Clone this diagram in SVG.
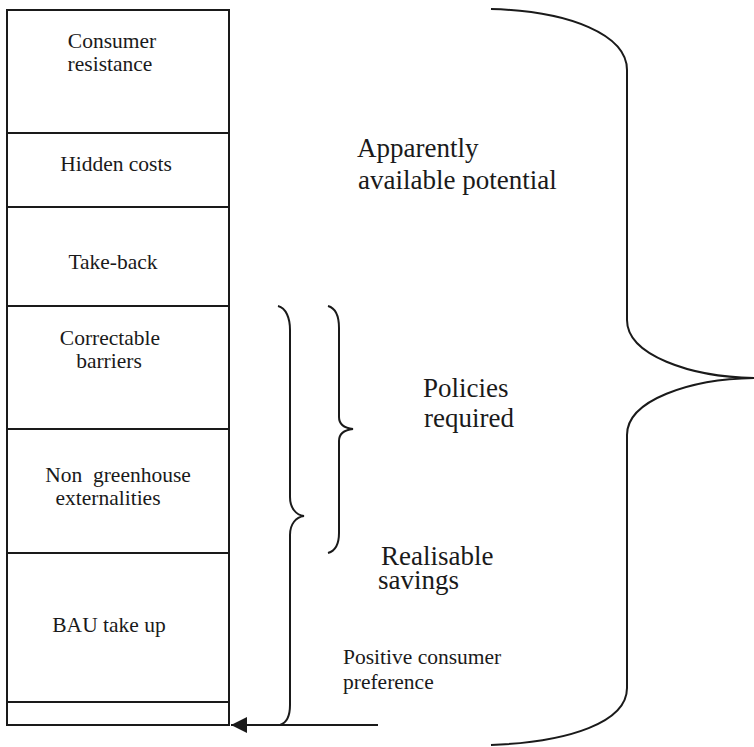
<svg xmlns="http://www.w3.org/2000/svg" width="754" height="747" viewBox="0 0 754 747">
<defs>
<style>
.box{fill:#fff;stroke:#1a1a1a;stroke-width:2}
.lbl{font-family:'Liberation Serif',Tinos,'Times New Roman',Times,'DejaVu Serif',serif;font-size:21.5px;fill:#1a1a1a}
.big{font-family:'Liberation Serif',Tinos,'Times New Roman',Times,'DejaVu Serif',serif;font-size:27px;fill:#1a1a1a}
.brace{fill:none;stroke:#1a1a1a;stroke-width:2}
.line{fill:none;stroke:#1a1a1a;stroke-width:2.2}
</style>
<marker id="ah" markerUnits="userSpaceOnUse" markerWidth="17" markerHeight="16" refX="16" refY="8" orient="auto">
<path d="M0,0 L16,8 L0,16 Z" fill="#1a1a1a"/>
</marker>
</defs>
<rect width="754" height="747" fill="#fff"/>
<g id="node-consumer-resistance">
<rect class="box" x="7" y="10" width="222" height="123"/>
<text class="lbl" x="112" y="48" text-anchor="middle">Consumer</text>
<text class="lbl" x="110" y="71" text-anchor="middle">resistance</text>
</g>
<g id="node-hidden-costs">
<rect class="box" x="7" y="133" width="222" height="74"/>
<text class="lbl" x="116" y="171" text-anchor="middle">Hidden costs</text>
</g>
<g id="node-take-back">
<rect class="box" x="7" y="207" width="222" height="99"/>
<text class="lbl" x="113" y="269" text-anchor="middle">Take-back</text>
</g>
<g id="node-correctable-barriers">
<rect class="box" x="7" y="306" width="222" height="123"/>
<text class="lbl" x="110" y="345" text-anchor="middle">Correctable</text>
<text class="lbl" x="109" y="368" text-anchor="middle">barriers</text>
</g>
<g id="node-non-greenhouse">
<rect class="box" x="7" y="429" width="222" height="124"/>
<text class="lbl" x="118" y="482" text-anchor="middle" xml:space="preserve">Non  greenhouse</text>
<text class="lbl" x="108" y="505" text-anchor="middle">externalities</text>
</g>
<g id="node-bau-take-up">
<rect class="box" x="7" y="553" width="222" height="149"/>
<text class="lbl" x="109" y="632" text-anchor="middle">BAU take up</text>
</g>
<g id="node-positive-preference">
<rect class="box" x="7" y="702" width="222" height="23"/>
</g>
<g id="connectors">
<path class="brace" d="M491,9 C570,11 627,35 627,70 L627,320 C627,355 690,377 754,378 C690,379 627,400 627,435 L627,688 C627,722 570,742 491,745"/>
<path class="brace" d="M278,306 C286,308 290,318 290,330 L290,497 C290,508 296,515 304,516 C296,517 290,524 290,535 L290,705 C290,716 286,723 280,725"/>
<path class="brace" d="M328,306 C335,308 339,316 339,328 L339,417 C339,424 344,428 353,429 C344,430 339,434 339,441 L339,533 C339,545 335,551 328,553"/>
<line class="line" x1="378" y1="725" x2="231" y2="725" marker-end="url(#ah)"/>
</g>
<g id="labels">
<text class="big" x="357" y="157">Apparently</text>
<text class="big" x="358" y="189">available potential</text>
<text class="big" x="423" y="397">Policies</text>
<text class="big" x="424" y="427">required</text>
<text class="big"><tspan x="381" y="565">Realisable</tspan><tspan x="378" y="589">savings</tspan></text>
<text class="lbl" x="343" y="664">Positive consumer</text>
<text class="lbl" x="343" y="689">preference</text>
</g>
</svg>
